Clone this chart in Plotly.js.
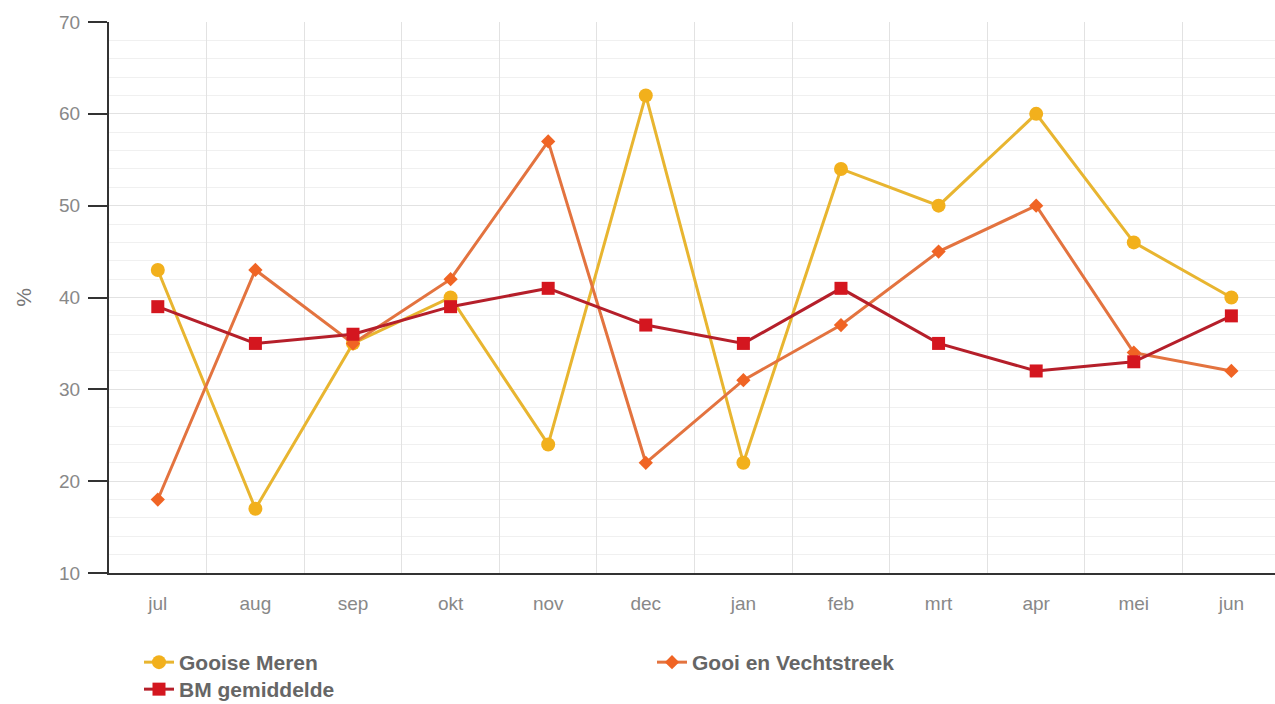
<!DOCTYPE html>
<html>
<head>
<meta charset="utf-8">
<script src="https://cdn.plot.ly/plotly-3.0.1.min.js"></script>
<style>html,body{margin:0;padding:0;background:#fff;}#chart{width:1275px;height:704px;}</style>
</head>
<body>
<div id="chart"></div>
<script>
const months = ["jul","aug","sep","okt","nov","dec","jan","feb","mrt","apr","mei","jun"];
const gooiseMeren = [43,17,35,40,24,62,22,54,50,60,46,40];
const gooiVecht = [18,43,35,42,57,22,31,37,45,50,34,32];
const bmGemiddelde = [39,35,36,39,41,37,35,41,35,32,33,38];
const seriesNames = ["Gooise Meren","Gooi en Vechtstreek","BM gemiddelde"];

const traces = [
  {x: months, y: gooiseMeren, name: seriesNames[0], type: "scatter", mode: "lines+markers", legend: "legend",
   line: {color: "#e8b530", width: 3}, marker: {color: "#f2b01c", symbol: "circle", size: 14}},
  {x: months, y: gooiVecht, name: seriesNames[1], type: "scatter", mode: "lines+markers", legend: "legend2",
   line: {color: "#e3733f", width: 3}, marker: {color: "#f06424", symbol: "diamond", size: 11}},
  {x: months, y: bmGemiddelde, name: seriesNames[2], type: "scatter", mode: "lines+markers", legend: "legend3",
   line: {color: "#b51f2a", width: 3}, marker: {color: "#d4161f", symbol: "square", size: 13}}
];

const legendFont = {size: 21, color: "#666", weight: "bold", family: "Liberation Sans, Arial, sans-serif"};
const plotW = 1166, plotH = 551, plotL = 109, plotB = 573;
function legendAt(px, py) {
  return {orientation: "v", x: (px - plotL) / plotW, xanchor: "left",
          y: (plotB - py) / plotH, yanchor: "top", font: legendFont, borderwidth: 0, bgcolor: "rgba(0,0,0,0)"};
}

const layout = {
  width: 1275, height: 704,
  margin: {l: 109, r: 0, t: 22, b: 131, autoexpand: false},
  paper_bgcolor: "#fff", plot_bgcolor: "#fff",
  font: {family: "Liberation Sans, Arial, sans-serif", color: "#888", size: 19},
  showlegend: true,
  legend: legendAt(139, 642),
  legend2: legendAt(652, 642),
  legend3: legendAt(139, 669),
  xaxis: {type: "category", categoryorder: "array", categoryarray: months,
          range: [-0.5, 11.447], tickson: "boundaries", ticks: "", ticklabelstandoff: 12, tickangle: 0,
          showgrid: true, gridcolor: "#e2e2e2", gridwidth: 1,
          showline: true, linecolor: "#333", linewidth: 2, zeroline: false,
          tickfont: {size: 19, color: "#888"}},
  yaxis: {range: [10, 70], dtick: 10, tick0: 10, ticks: "outside", ticklen: 19, tickwidth: 2, tickcolor: "#333",
          showline: true, linecolor: "#333", linewidth: 2, zeroline: false,
          showgrid: true, gridcolor: "#e2e2e2", gridwidth: 1,
          minor: {dtick: 2, showgrid: true, gridcolor: "#f0f0f0", gridwidth: 1},
          ticklabelstandoff: 4,
          tickfont: {size: 19, color: "#888"},
          title: {text: "%", font: {size: 21, color: "#777"}, standoff: 22}}
};

Plotly.newPlot("chart", traces, layout, {displayModeBar: false, staticPlot: true});
</script>
</body>
</html>
